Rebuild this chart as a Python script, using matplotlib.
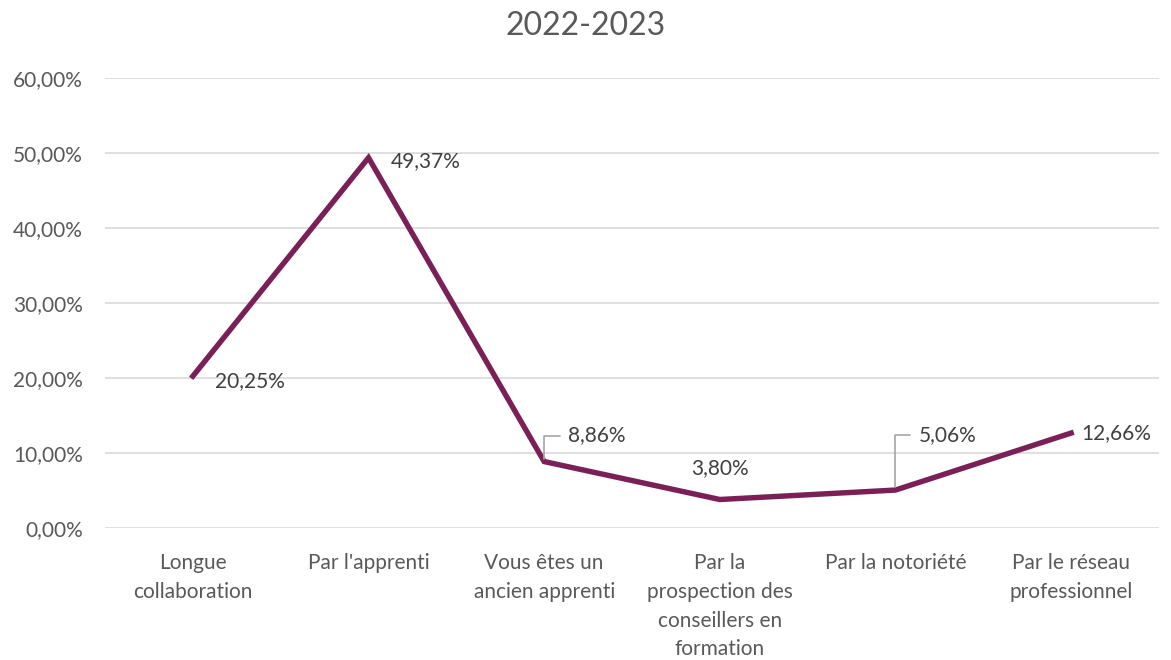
import matplotlib
matplotlib.use("Agg")
import matplotlib.pyplot as plt
from matplotlib.ticker import FuncFormatter

categories = ["Longue\ncollaboration", "Par l'apprenti", "Vous êtes un\nancien apprenti",
              "Par la\nprospection des\nconseillers en\nformation", "Par la notoriété",
              "Par le réseau\nprofessionnel"]
values = [20.25, 49.37, 8.86, 3.80, 5.06, 12.66]
title = "2022-2023"

plt.rcParams['font.family'] = ['Lato', 'DejaVu Sans']
fig = plt.figure(figsize=(11.71, 6.6), dpi=100)
ax = fig.add_axes([0.0897, 0.2, 0.900, 0.6818])

x = list(range(len(values)))
line_color = "#7B2056"
ax.plot(x, values, color=line_color, lw=3.9, solid_joinstyle='miter', zorder=3)

ax.set_xlim(-0.5, len(values) - 0.5)
ax.set_ylim(0, 60)
ax.set_yticks(range(0, 61, 10))
ax.yaxis.set_major_formatter(FuncFormatter(lambda v, p: f"{v:.2f}%".replace('.', ',')))
ax.grid(axis='y', color='#d9d9d9', lw=1.2)
ax.set_axisbelow(True)
for s in ax.spines.values():
    s.set_visible(False)
ax.tick_params(axis='both', length=0, labelsize=15, labelcolor='#595959')
ax.tick_params(axis='y', pad=16)
ax.tick_params(axis='x', pad=18)
ax.set_xticks(x)
ax.set_xticklabels(categories, linespacing=1.55)

fig.suptitle(title, y=0.983, fontsize=23, color='#595959')

label_color = '#404040'
# (dx, dy) offset in pixels, ha, leader
offsets = [(22, -5, 'left', False), (22, -3, 'left', False), (24, 26, 'left', True),
           (0, 31, 'center', False), (23, 55, 'left', True), (10, 0, 'left', False)]
for xi, v, (dx, dy, ha, leader) in zip(x, values, offsets):
    txt = f"{v:.2f}%".replace('.', ',')
    kw = {}
    if leader:
        kw['arrowprops'] = dict(arrowstyle='-', color='#a6a6a6', lw=1.2,
                                connectionstyle='angle,angleA=0,angleB=90,rad=0',
                                shrinkA=4, shrinkB=2, relpos=(0, 0.5))
    ax.annotate(txt, xy=(xi, v), xytext=(dx, dy), textcoords='offset pixels',
                ha=ha, va='center', fontsize=15, color=label_color, **kw)

fig.savefig("out.png", dpi=100)
